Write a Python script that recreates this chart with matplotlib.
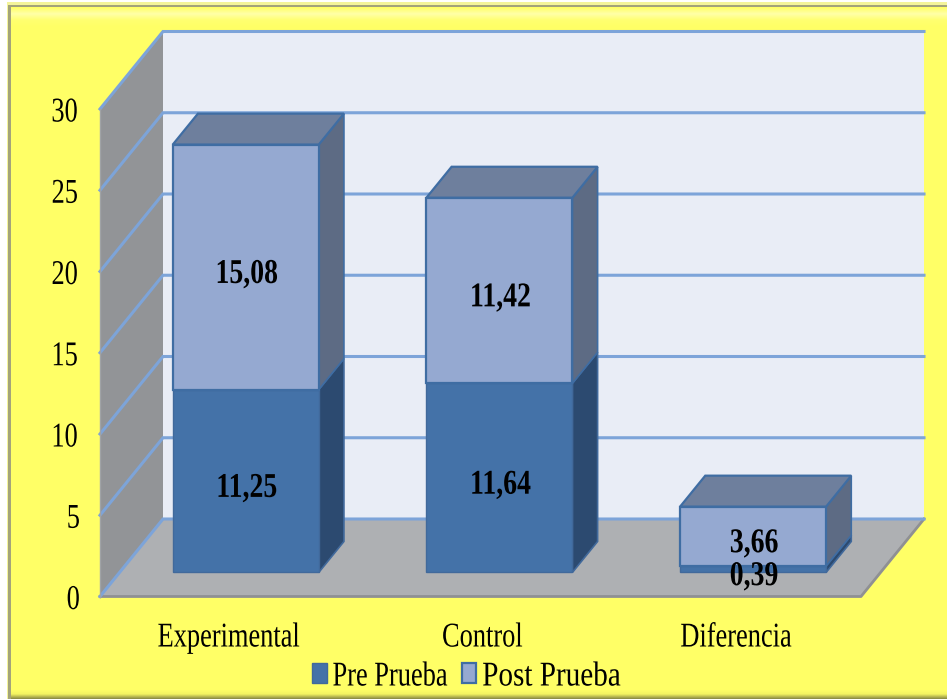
import numpy as np
import matplotlib
matplotlib.use("Agg")
import matplotlib.pyplot as plt
from matplotlib.colors import LinearSegmentedColormap
from matplotlib.patches import Rectangle
from matplotlib.patheffects import AbstractPathEffect
from matplotlib.transforms import Affine2D

categories = ["Experimental", "Control", "Diferencia"]
pre_prueba = [11.25, 11.64, 0.39]
post_prueba = [15.08, 11.42, 3.66]
pre_labels = ["11,25", "11,64", "0,39"]
post_labels = ["15,08", "11,42", "3,66"]
y_ticks = [0, 5, 10, 15, 20, 25, 30]

W, H = 947, 699
plt.rcParams["font.family"] = ["Liberation Serif", "DejaVu Serif"]

YELLOW = "#FFFF66"
GRID = "#7DA4D9"
PRE = dict(front="#4472A8", side="#2C4A70", top="#6E7F9D", edge="#41699B", lw=1.0)
POST = dict(front="#95A9D1", side="#5D6B84", top="#6E7F9D", edge="#3F6DA3", lw=1.6)


class Squeeze(AbstractPathEffect):
    # the original text is squashed sideways, matplotlib has no font stretch
    def __init__(self, text, sx=0.76, anchor="center", shift=0):
        super().__init__()
        self.text, self.sx, self.anchor, self.shift = text, sx, anchor, shift

    def draw_path(self, renderer, gc, tpath, affine, rgbFace=None):
        bb = self.text.get_window_extent()
        cx = bb.x0 if self.anchor == "left" else (bb.x0 + bb.x1) / 2
        squeeze = Affine2D().translate(-cx, 0).scale(self.sx, 1).translate(cx + self.shift, 0)
        renderer.draw_path(gc, tpath, affine + squeeze, rgbFace)


fig = plt.figure(figsize=(W / 100, H / 100), dpi=100, facecolor="white")

# picture frame, in pixels
bg = fig.add_axes([0, 0, 1, 1], zorder=0)
bg.axis("off")
bg.add_patch(Rectangle((7, 2), W, H, fc="#F4F49A", ec="none"))
bg.add_patch(Rectangle((8, 5), W, H, fc="#A3A37A", ec="none"))
bg.add_patch(Rectangle((11, 7), W, H, fc=YELLOW, ec="none"))
top_band = np.linspace(0, 1, 20)[:, None]
bg.imshow(top_band, extent=(11, W, 27, 7), aspect="auto", zorder=2,
          cmap=LinearSegmentedColormap.from_list("band", ["#FFFF66", "#FFFFA8", "#FFFF70", "#FFFF66"]))
bottom_band = np.linspace(0, 1, 10)[:, None]
bg.imshow(bottom_band, extent=(11, W, H, 689), aspect="auto", zorder=2,
          cmap=LinearSegmentedColormap.from_list("band2", ["#FFFF66", "#F4F462", "#8F8F45"]))
bg.set_xlim(0, W)
bg.set_ylim(H, 0)

# front plane of the 3d box: x 100-861 px, y 109-596.5 px
ax = fig.add_axes([100 / W, 1 - 596.5 / H, 761 / W, 487.5 / H], zorder=1)
ax.set_xlim(0, len(categories))
ax.set_ylim(0, 30)
ax.patch.set_alpha(0)
for s in ax.spines.values():
    s.set_visible(False)

x_unit = 761 / len(categories)
y_unit = 487.5 / 30
box_dx = 63 / x_unit
box_dy = 77.5 / y_unit
gap_dx, gap_dy = 0.30 * box_dx, 0.31 * box_dy
bar_ddx, bar_ddy = 0.40 * box_dx, 0.40 * box_dy
bar_w = 146 / x_unit
x_max, y_max = len(categories), 30

# walls and floor
ax.fill([0, box_dx, box_dx, 0], [0, box_dy, y_max + box_dy, y_max], fc="#929497", ec="none", clip_on=False, zorder=1)
ax.fill([box_dx, x_max + box_dx, x_max + box_dx, box_dx], [box_dy, box_dy, y_max + box_dy, y_max + box_dy],
        fc="#E9EDF6", ec="none", clip_on=False, zorder=1)
ax.fill([0, x_max, x_max + box_dx, box_dx], [0, 0, box_dy, box_dy], fc="#AEB0B3", ec="none", clip_on=False, zorder=2)
ax.plot([0, x_max, x_max + box_dx], [0, 0, box_dy], color="#8F9093", lw=2, clip_on=False, zorder=2)
for v in y_ticks:
    ax.plot([0, box_dx, x_max + box_dx], [v, v + box_dy, v + box_dy], color=GRID, lw=2.2,
            clip_on=False, zorder=3, solid_joinstyle="miter")
ax.plot([0, 0], [0, y_max], color="#A0A3A6", lw=1, clip_on=False, zorder=3)

# stacked 3d bars
x_pos = np.arange(len(categories)) + 0.5 + gap_dx
base = gap_dy
handles = []
for i_seg, (vals, style, labels) in enumerate([(pre_prueba, PRE, pre_labels), (post_prueba, POST, post_labels)]):
    bottoms = np.array(pre_prueba) * i_seg + base
    vals = np.array(vals)
    bars = ax.bar(x_pos, vals, bar_w, bottom=bottoms, color=style["front"], edgecolor=style["edge"],
                  linewidth=style["lw"], clip_on=False, zorder=5)
    handles.append(bars)
    for x, b, v, lab in zip(x_pos, bottoms, vals, labels):
        x1 = x + bar_w / 2
        t = b + v
        ax.fill([x1, x1 + bar_ddx, x1 + bar_ddx, x1], [b, b + bar_ddy, t + bar_ddy, t], fc=style["side"],
                ec=style["edge"], lw=1.2, clip_on=False, zorder=4)
        if i_seg == 1:
            x0 = x - bar_w / 2
            ax.fill([x0, x1, x1 + bar_ddx, x0 + bar_ddx], [t, t, t + bar_ddy, t + bar_ddy], fc=style["top"],
                    ec=style["edge"], lw=1.6, clip_on=False, zorder=4)
        txt = ax.text(x, b + v / 2 - 0.45, lab, ha="center", va="center", fontsize=25, fontweight="bold",
                      color="black", zorder=8, clip_on=False)
        txt.set_path_effects([Squeeze(txt, sx=0.8, shift=1)])

ax.set_yticks(y_ticks)
ax.set_yticklabels([str(v) for v in y_ticks], fontsize=25)
ax.set_xticks(np.arange(len(categories)) + 0.5)
ax.set_xticklabels(categories, fontsize=25)
ax.tick_params(axis="both", length=0)
ax.tick_params(axis="y", pad=13)
ax.tick_params(axis="x", pad=18)
for lab in ax.get_yticklabels():
    lab.set_path_effects([Squeeze(lab)])
for lab in ax.get_xticklabels():
    lab.set_path_effects([Squeeze(lab, shift=2)])

leg = fig.legend([h[0] for h in handles], ["Pre Prueba", "Post Prueba"], ncols=2, frameon=False,
                 loc="center", bbox_to_anchor=(480 / W, 1 - 677 / H), prop={"size": 25},
                 handlelength=0.42, handleheight=0.5, handletextpad=0.17, columnspacing=-0.66, borderpad=0)
for t, sx in zip(leg.get_texts(), [0.76, 0.84]):
    t.set_path_effects([Squeeze(t, sx=sx, anchor="left")])

fig.savefig("out.png", dpi=100)
